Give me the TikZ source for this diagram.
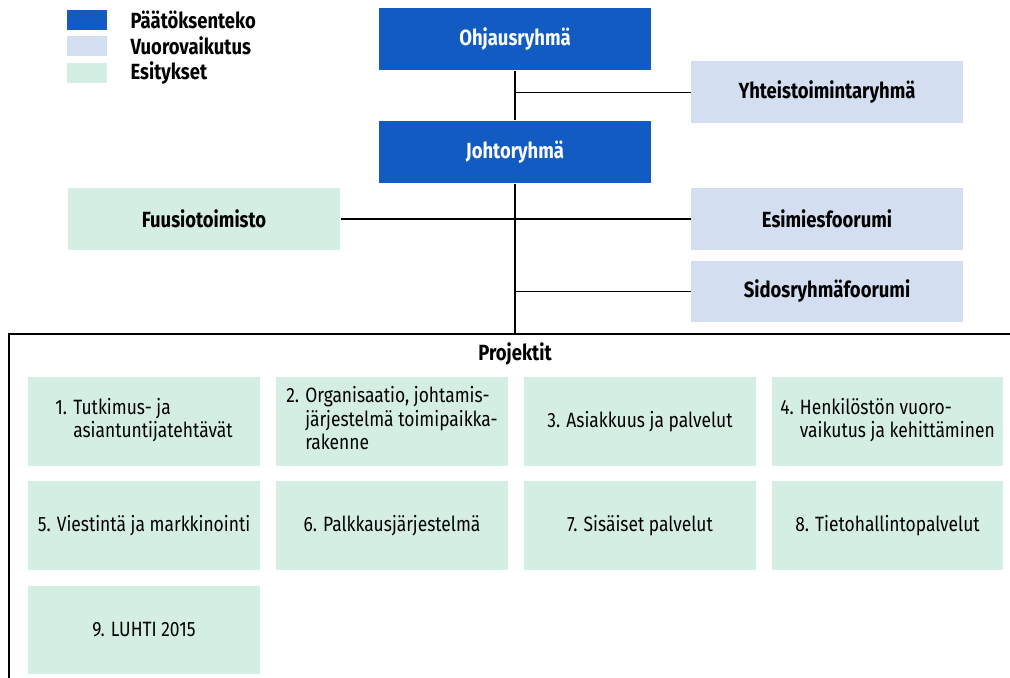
\documentclass[tikz,border=0pt]{standalone}
\usepackage{fontspec}
\setmainfont[FakeStretch=0.84]{Fira Sans}
\usetikzlibrary{positioning}
\definecolor{paatoscol}{HTML}{125BC2}
\definecolor{vuorocol}{HTML}{D3DEF0}
\definecolor{esityscol}{HTML}{D5EEE3}
\tikzset{
  box/.style={minimum width=5.44cm, minimum height=1.24cm, inner sep=0pt,
    font=\fontsize{12.5}{14}\selectfont\bfseries},
  paatos/.style={box, fill=paatoscol, text=white},
  vuoro/.style={box, fill=vuorocol},
  esitys/.style={box, fill=esityscol},
  projekti/.style={fill=esityscol, minimum width=4.64cm, minimum height=1.78cm,
    inner sep=0pt, font=\fontsize{11.8}{13.3}\selectfont, align=left},
  selite/.style={anchor=west, inner sep=0pt, font=\fontsize{12.5}{14}\selectfont\bfseries}
}
\begin{document}
\begin{tikzpicture}[x=0.02cm, y=-0.02cm, line width=0.6pt]
\useasboundingbox (0,0) rectangle (1010,678);

\fill[paatoscol] (67,10) rectangle (107,30);
\fill[vuorocol] (67,36) rectangle (107,56);
\fill[esityscol] (67,63) rectangle (107,83);
\node[selite] (l1) at (130,20) {Päätöksenteko};
\node[selite] (l2) at (130,46) {Vuorovaikutus};
\node[selite] (l3) at (130,73) {Esitykset};

\node[paatos] (ohjaus) at (515,39) {Ohjausryhmä};
\node[vuoro] (yt) at (827,92.5) {Yhteistoimintaryhmä};
\node[paatos] (johto) at (515,152) {Johtoryhmä};
\node[esitys] (fuusio) at (204,219) {Fuusiotoimisto};
\node[vuoro] (esimies) at (827,219) {Esimiesfoorumi};
\node[vuoro] (sidos) at (827,291.5) {Sidosryhmäfoorumi};
\coordinate (ylä) at (515,334);

\draw (ohjaus) -- (johto);
\draw (yt) -- (yt -| ohjaus);
\draw (fuusio) -- (esimies);
\draw (sidos) -- (sidos -| johto);
\draw (johto) -- (ylä);
\draw (1010,334) -- (9,334) -- (9,678);

\node[font=\fontsize{12.5}{14}\selectfont\bfseries] (proj) at (515,354) {Projektit};

\node[projekti] (p1) at (144,421.5) {\begin{tabular}{@{}l@{ }l@{}}1. & Tutkimus- ja\\ & asiantuntijatehtävät\end{tabular}};
\node[projekti] (p2) at (392,421.5) {\begin{tabular}{@{}l@{ }l@{}}2. & Organisaatio, johtamis-\\ & järjestelmä toimipaikka-\\ & rakenne\end{tabular}};
\node[projekti] (p3) at (640,421.5) {3. Asiakkuus ja palvelut};
\node[projekti] (p4) at (887.5,421.5) {\begin{tabular}{@{}l@{ }l@{}}4. & Henkilöstön vuoro-\\ & vaikutus ja kehittäminen\end{tabular}};
\node[projekti] (p5) at (144,525.5) {5. Viestintä ja markkinointi};
\node[projekti] (p6) at (392,525.5) {6. Palkkausjärjestelmä};
\node[projekti] (p7) at (640,525.5) {7. Sisäiset palvelut};
\node[projekti] (p8) at (887.5,525.5) {8. Tietohallintopalvelut};
\node[projekti] (p9) at (144,630) {9. LUHTI 2015};
\end{tikzpicture}
\end{document}
